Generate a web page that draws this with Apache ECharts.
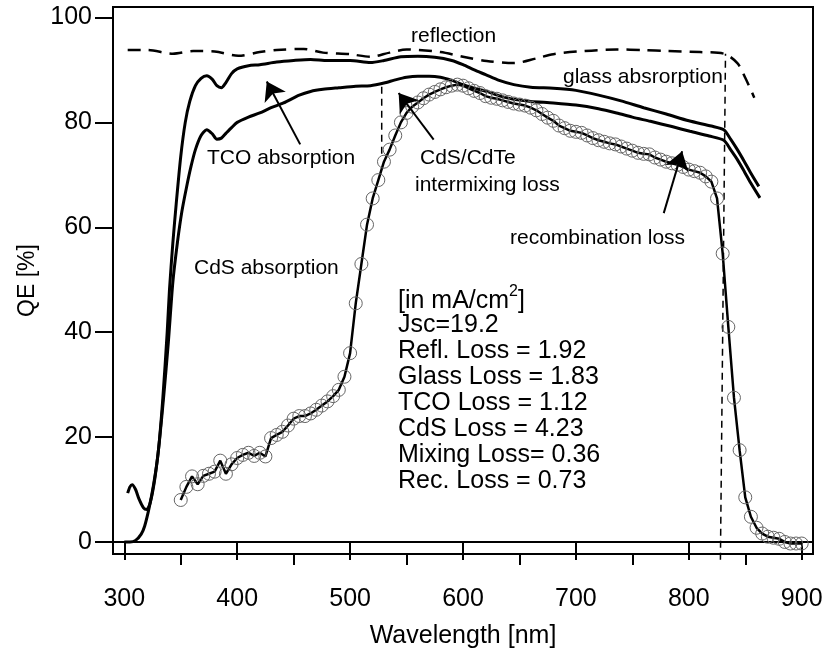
<!DOCTYPE html>
<html>
<head>
<meta charset="utf-8">
<script src="https://cdn.jsdelivr.net/npm/echarts@6/dist/echarts.min.js"></script>
<style>
  html, body { margin: 0; padding: 0; background: #fff; }
  #chart { width: 825px; height: 650px; }
</style>
</head>
<body>
<div id="chart"></div>
<script>
// Measured quantum efficiency (circles), 5 nm steps
const qeWavelength = [
  350,355,360,365,370,375,380,385,390,395,400,405,410,415,420,425,430,435,440,445,
  450,455,460,465,470,475,480,485,490,495,500,505,510,515,520,525,530,535,540,545,
  550,555,560,565,570,575,580,585,590,595,600,605,610,615,620,625,630,635,640,645,
  650,655,660,665,670,675,680,685,690,695,700,705,710,715,720,725,730,735,740,745,
  750,755,760,765,770,775,780,785,790,795,800,805,810,815,820,825,830,835,840,845,
  850,855,860,865,870,875,880,885,890,895,900
];
const qeMeasured = [
  8.0,10.5,12.5,11.0,12.6,13.0,13.4,15.5,13.0,14.8,16.0,16.6,17.0,16.4,17.0,16.3,19.8,20.4,21.0,22.2,
  23.5,24.0,24.0,24.5,25.2,26.0,26.8,27.8,29.0,31.5,36.0,45.5,53.0,60.5,65.5,69.0,72.5,74.8,77.5,80.0,
  81.8,83.0,83.8,84.6,85.3,85.8,86.3,86.7,87.0,87.2,87.0,86.5,86.0,85.6,85.0,84.7,84.5,84.2,83.9,83.6,
  83.4,83.2,82.8,82.3,81.6,80.9,80.3,79.4,78.9,78.4,78.2,78.0,77.5,77.0,76.6,76.3,76.0,75.8,75.4,75.0,
  74.6,74.2,74.0,73.9,73.3,72.9,72.5,72.2,71.9,71.5,71.0,70.7,70.4,69.7,68.7,65.5,55.0,41.0,27.5,17.5,
  8.5,4.8,2.7,1.6,1.0,0.8,0.6,0.0,-0.3,-0.3,-0.3
];

// Reflection limit (dashed)
const reflWavelength = [303,320,343,361,380,401,420,435,459,476,500,518,535,550,580,600,621,645,665,680,707,736,760,781,810,831,843,850,858];
const reflQE =         [93.8,93.8,93.1,93.6,93.5,92.7,93.4,93.8,94.0,93.3,93.0,92.5,93.3,93.9,93.4,92.5,91.7,91.3,92.2,93.0,93.6,93.9,93.8,93.6,93.4,93.1,91.3,88.5,84.7];

// Limit after glass absorption (upper solid)
const glassWavelength = [300,305,310,315,318,322,326,330,334,338,340,343,346,350,354,358,363,368,373,378,382,386,390,395,400,410,420,435,450,465,480,500,518,530,545,560,575,590,600,610,620,632,645,660,680,700,720,740,760,780,800,820,831,837,843,849,855,862];
const glassQE =         [0,0,0.3,1.5,3,6.5,11,17,27,40,48,57,64.5,73.5,80,84,87,88.4,88.9,88.2,87.0,86.6,87.6,89.3,90.2,90.8,91.0,91.5,91.8,92.0,91.8,91.8,91.4,91.8,92.5,92.6,92.4,91.8,91.0,90.0,89.1,88.0,87.2,86.7,86.5,86.1,85.2,84.1,82.8,81.6,80.3,79.3,78.6,76.8,74.8,72.6,70.3,67.8];

// Limit after TCO absorption (lower solid)
const tcoWavelength = [303,305,307,310,313,317,320,323,327,331,335,339,343,347,351,355,359,363,368,373,378,382,386,390,395,400,410,420,430,441,455,465,476,490,505,518,530,540,550,560,570,580,590,600,610,621,633,645,660,680,700,720,736,750,766,785,801,818,831,837,843,849,855,863];
const tcoQE =         [9.3,10.5,10.9,10.0,8.2,6.5,6.2,7.5,12,19,28,38,49.5,57,63,67.5,71.5,74.8,77.5,78.6,77.8,76.8,77.0,77.9,79.0,80.0,81.0,81.8,82.8,83.7,85.2,85.9,86.3,86.6,86.9,87.0,87.5,88.1,88.6,88.8,88.8,88.6,88.0,87.2,86.5,85.9,85.0,84.4,84.0,83.7,83.3,82.6,81.8,81.0,80.2,79.2,78.3,77.4,76.6,74.8,72.9,70.7,68.4,65.6];

// Axis ticks
const xMajorTicks = [300,400,500,600,700,800,900];
const xMinorTicks = [350,450,550,650,750,850];
const yTicks = [0,20,40,60,80,100];

// Loss summary text
const summaryLines = [
  'Jsc=19.2',
  'Refl. Loss = 1.92',
  'Glass Loss = 1.83',
  'TCO Loss = 1.12',
  'CdS Loss = 4.23',
  'Mixing Loss= 0.36',
  'Rec. Loss = 0.73'
];

// Arrows [tail, head] in data units
const arrowTCO = [[455.8, 75.8], [426.2, 87.8]];
const arrowMixing = [[574, 76.7], [543, 85.6]];
const arrowRec = [[777.8, 62.7], [794.1, 74.5]];

// Dashed guide lines
const guideMixing = [[528, 74], [528, 87.3]];
const guideCutoff = [[828, -3.4], [832.5, 93.1]];

const zip = (xs, ys) => xs.map((x, i) => [x, ys[i]]);
const FONT = '"Liberation Sans", Arial, Helvetica, sans-serif';

const chart = echarts.init(document.getElementById('chart'), null, { renderer: 'canvas' });

function arrowSeries(pts) {
  return {
    type: 'lines',
    coordinateSystem: 'cartesian2d',
    silent: true,
    symbol: ['none', 'arrow'],
    symbolSize: [11, 18],
    lineStyle: { color: '#000', width: 2, opacity: 1 },
    data: [{ coords: pts }],
    z: 5
  };
}

const textStyleBase = { fontFamily: FONT, fill: '#000', verticalAlign: 'middle' };
const labelDefs = [
  { text: 'reflection', x: 411, y: 36, size: 21 },
  { text: 'glass absrorption', x: 563, y: 77, size: 21 },
  { text: 'TCO absorption', x: 207, y: 158, size: 21 },
  { text: 'CdS/CdTe', x: 420, y: 158, size: 21 },
  { text: 'intermixing loss', x: 415, y: 185, size: 21 },
  { text: 'recombination loss', x: 510, y: 238, size: 21 },
  { text: 'CdS absorption', x: 194, y: 268, size: 21 }
];

const graphics = labelDefs.map(d => ({
  type: 'text', x: d.x, y: d.y, silent: true,
  style: Object.assign({ text: d.text, fontSize: d.size, textAlign: 'left' }, textStyleBase)
}));

graphics.push({
  type: 'text', x: 398, y: 299, silent: true,
  style: {
    text: '{m|[in mA/cm}{s|2}{m|]}',
    fontFamily: FONT, fill: '#000', verticalAlign: 'middle', textAlign: 'left',
    rich: {
      m: { fontFamily: FONT, fontSize: 25, fill: '#000', lineHeight: 30, verticalAlign: 'bottom' },
      s: { fontFamily: FONT, fontSize: 16, fill: '#000', lineHeight: 30, verticalAlign: 'top' }
    }
  }
});
summaryLines.forEach((t, i) => {
  graphics.push({
    type: 'text', x: 398, y: 325 + i * 26.1, silent: true,
    style: Object.assign({ text: t, fontSize: 25, textAlign: 'left' }, textStyleBase)
  });
});

const option = {
  animation: false,
  backgroundColor: '#fff',
  grid: {
    left: 113, right: 12, top: 7, bottom: 96,
    outerBoundsMode: 'none',
    show: true, borderColor: '#000', borderWidth: 2, backgroundColor: 'transparent'
  },
  xAxis: [
    {
      type: 'value', min: 290, max: 910,
      name: 'Wavelength [nm]', nameLocation: 'middle', nameGap: 70,
      nameTextStyle: { fontFamily: FONT, fontSize: 25, color: '#000' },
      axisLine: { show: true, lineStyle: { color: '#000', width: 2 } },
      axisTick: { show: true, inside: false, length: 18, customValues: xMajorTicks, lineStyle: { color: '#000', width: 2 } },
      axisLabel: { show: true, customValues: xMajorTicks, margin: 33, fontFamily: FONT, fontSize: 25, color: '#000' },
      splitLine: { show: false }
    },
    {
      type: 'value', min: 290, max: 910, position: 'bottom',
      axisLine: { show: false },
      axisTick: { show: true, inside: false, length: 11, customValues: xMinorTicks, lineStyle: { color: '#000', width: 2 } },
      axisLabel: { show: false },
      splitLine: { show: false }
    }
  ],
  yAxis: {
    type: 'value', min: -2.3, max: 102,
    name: 'QE [%]', nameLocation: 'middle', nameGap: 70, nameRotate: 90,
    nameTextStyle: { fontFamily: FONT, fontSize: 23, color: '#000' },
    axisLine: { show: true, lineStyle: { color: '#000', width: 2 } },
    axisTick: { show: true, inside: false, length: 18, customValues: yTicks, lineStyle: { color: '#000', width: 2 } },
    axisLabel: { show: true, customValues: yTicks, margin: 21, fontFamily: FONT, fontSize: 25, color: '#000' },
    splitLine: { show: false }
  },
  graphic: graphics,
  series: [
    {
      name: 'reflection', type: 'line', xAxisIndex: 0, data: zip(reflWavelength, reflQE),
      showSymbol: false, smooth: 0.3, silent: true,
      lineStyle: { color: '#000', width: 2.5, type: [13, 8] }
    },
    {
      name: 'glass', type: 'line', xAxisIndex: 0, data: zip(glassWavelength, glassQE),
      showSymbol: false, smooth: 0.25, silent: true,
      lineStyle: { color: '#000', width: 3 }
    },
    {
      name: 'tco', type: 'line', xAxisIndex: 0, data: zip(tcoWavelength, tcoQE),
      showSymbol: false, smooth: 0.25, silent: true,
      lineStyle: { color: '#000', width: 3 }
    },
    {
      name: 'QE', type: 'line', xAxisIndex: 0, data: zip(qeWavelength, qeMeasured),
      symbol: 'circle', symbolSize: 13, showSymbol: true, silent: true,
      itemStyle: { color: 'rgba(0,0,0,0)', borderColor: '#666', borderWidth: 1 },
      lineStyle: { color: '#000', width: 2.5 },
      z: 3
    },
    {
      name: 'guide-mixing', type: 'line', xAxisIndex: 0, data: guideMixing,
      showSymbol: false, silent: true,
      lineStyle: { color: '#000', width: 1.5, type: [7, 5] }
    },
    {
      name: 'guide-cutoff', type: 'line', xAxisIndex: 0, data: guideCutoff,
      showSymbol: false, silent: true, clip: false,
      lineStyle: { color: '#000', width: 1.5, type: [7, 5] }
    },
    arrowSeries(arrowTCO),
    arrowSeries(arrowMixing),
    arrowSeries(arrowRec)
  ]
};

chart.setOption(option);
</script>
</body>
</html>
